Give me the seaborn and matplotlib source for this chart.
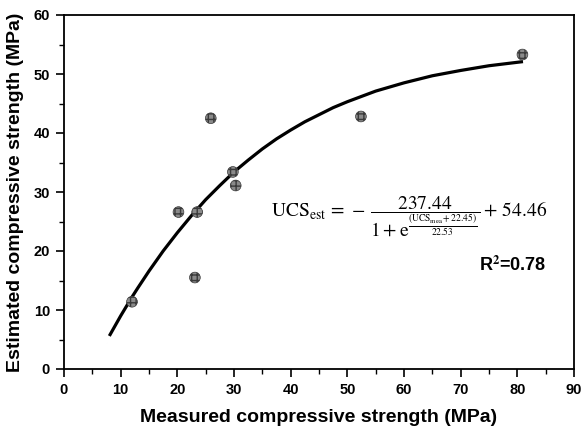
import matplotlib
matplotlib.use("Agg")
import matplotlib.pyplot as plt
import seaborn as sns
import pandas as pd

# Measured data points
measured = [12.0, 20.2, 23.1, 23.5, 25.9, 29.8, 30.3, 52.4, 80.9]
estimated = [11.4, 26.6, 15.5, 26.6, 42.5, 33.4, 31.1, 42.8, 53.3]

# Fitted curve
curve_x = [8, 9, 10, 11, 12, 13, 15, 17.5, 20, 22.5, 25, 27.5, 30, 32.5, 35,
           37.5, 40, 42.5, 45, 47.5, 50, 55, 60, 65, 70, 75, 81]
curve_y = [5.6, 7.3, 9.0, 10.6, 12.2, 13.7, 16.6, 20.0, 23.1, 26.0, 28.7,
           31.1, 33.4, 35.4, 37.3, 39.0, 40.5, 41.9, 43.1, 44.3, 45.3, 47.1,
           48.5, 49.7, 50.6, 51.4, 52.1]

x_ticks = [0, 10, 20, 30, 40, 50, 60, 70, 80, 90]
y_ticks = [0, 10, 20, 30, 40, 50, 60]

sns.set_style("ticks")
plt.rcParams['font.family'] = ['Liberation Sans', 'DejaVu Sans']
plt.rcParams['mathtext.fontset'] = 'stix'
for k in ['text.color', 'axes.labelcolor', 'xtick.color', 'ytick.color',
          'axes.edgecolor']:
    plt.rcParams[k] = 'black'

pts = pd.DataFrame({"meas": measured, "est": estimated})
crv = pd.DataFrame({"x": curve_x, "y": curve_y})

fig = plt.figure(figsize=(5.82, 4.28), dpi=100)
ax = fig.add_axes([64/582, 1-369/428, (574-64)/582, (369-15)/428])

sns.lineplot(data=crv, x="x", y="y", ax=ax, color="black", linewidth=2.3,
             sort=False, estimator=None, solid_capstyle="butt",
             solid_joinstyle="round")
sns.scatterplot(data=pts, x="meas", y="est", ax=ax, s=60, color="#8a8a8a",
                edgecolor="#3a3a3a", linewidth=0.5, marker="o", zorder=3)
for c in ax.collections:
    c.set_hatch("+++")

ax.set_xlim(0, 90)
ax.set_ylim(0, 60)
ax.set_xticks(x_ticks)
ax.set_yticks(y_ticks)
ax.set_xticks([v + 5 for v in x_ticks[:-1]], minor=True)
ax.set_yticks([v + 5 for v in y_ticks[:-1]], minor=True)
ax.tick_params(which="major", direction="out", length=6, width=1.2,
               labelsize=10.5, pad=4, top=False, right=False)
ax.tick_params(which="minor", direction="out", length=3.5, width=1.0,
               top=False, right=False)
for lab in ax.get_xticklabels() + ax.get_yticklabels():
    lab.set_fontweight("bold")
for s in ax.spines.values():
    s.set_visible(True)
    s.set_linewidth(1.3)
    s.set_color("black")

ax.set_xlabel("Measured compressive strength (MPa)", fontsize=14,
              fontweight="bold", labelpad=9)
ax.set_ylabel("Estimated compressive strength (MPa)", fontsize=14,
              fontweight="bold", labelpad=7)

eq = (r"$\mathrm{UCS_{est}}\,=\,-\,\dfrac{237.44}{1+\mathrm{e}^{\frac{(\mathrm{UCS_{mea}}+22.45)}{22.53}}}+\,54.46$")
ax.text(85.2, 25.8, eq, fontsize=14, ha="right", va="baseline", color="black")
ax.text(85.2, 17.6, r"R$^\mathbf{2}$=0.78", fontsize=13, fontweight="bold",
        ha="right", va="center", color="black")

fig.savefig("out.png", dpi=100)
